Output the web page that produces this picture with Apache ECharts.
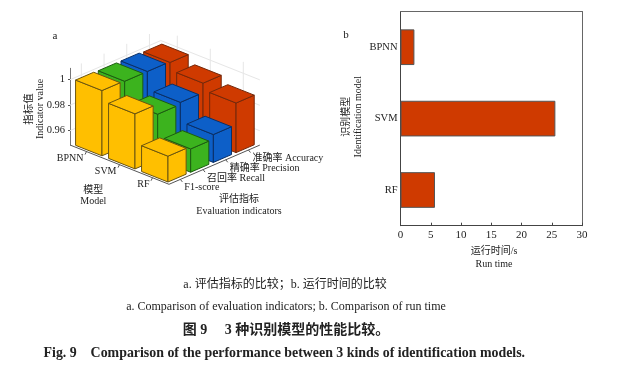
<!DOCTYPE html>
<html>
<head>
<meta charset="utf-8">
<style>
html, body { margin: 0; padding: 0; background: #fff; }
#chart { width: 622px; height: 369px; }
</style>
<script src="https://cdn.jsdelivr.net/npm/echarts@6/dist/echarts.min.js"></script>
</head>
<body>
<div id="chart"></div>
<script>
// 3D panel a
var models = ['BPNN', 'SVM', 'RF'];
var indicators = ['F1-score', '召回率 Recall', '精确率 Precision', '准确率 Accuracy'];
var f1Values = [1.000, 0.992, 0.969];
var recallValues = [0.9996, 0.984, 0.967];
var precisionValues = [0.9996, 0.9856, 0.9706];
var accuracyValues = [0.999, 0.993, 0.9877];
var zTicks = [0.96, 0.98, 1];
// panel b
var runModels = ['BPNN', 'SVM', 'RF'];
var runTimes = [2.3, 25.6, 5.7];

var indicatorValues = [f1Values, recallValues, precisionValues, accuracyValues];
var indicatorColors = ['#ffbf00', '#3cb31e', '#0d5fc8', '#cf3a00'];
var indicatorEdges = ['#6b5510', '#1d5c10', '#0a2f66', '#74280a'];

var serif = '"Liberation Serif", "Noto Sans CJK SC", serif';
var zMin = 0.9487;
var zMax = 1.009;

// oblique projection of the floor: m along models, i along indicators
var origin = [70, 145];
var stepM = [33, 13.1];
var stepI = [22.7, -9.8];
function floorPt(m, i) {
	return [origin[0] + m * stepM[0] + i * stepI[0], origin[1] + m * stepM[1] + i * stepI[1]];
}
function raise(pt, api, z) {
	return [pt[0], pt[1] + api.coord([0, z])[1] - api.coord([0, zMin])[1]];
}
function poly(points, fill, edge) {
	return {
		type: 'polygon',
		shape: { points: points },
		style: { fill: fill, stroke: edge, lineWidth: 1 }
	};
}
function line(a, b, color, width) {
	return {
		type: 'line',
		shape: { x1: a[0], y1: a[1], x2: b[0], y2: b[1] },
		style: { stroke: color, lineWidth: width || 1, fill: null }
	};
}
function label(text, x, y, align) {
	return {
		type: 'text',
		style: { text: text, x: x, y: y, align: align, verticalAlign: 'middle', font: '10px ' + serif, fill: '#222' }
	};
}

// walls, floor axes, category labels
function renderFrame(params, api) {
	var items = [];
	var wall = '#e6e6e6';
	var left = floorPt(0, 0), back = floorPt(0, 4), right = floorPt(3, 4), front = floorPt(3, 0);
	zTicks.forEach(function(z) {
		items.push(line(raise(left, api, z), raise(back, api, z), wall));
		items.push(line(raise(back, api, z), raise(right, api, z), wall));
	});
	indicators.forEach(function(n, i) {
		items.push(line(floorPt(0, i + 0.5), raise(floorPt(0, i + 0.5), api, zMax), wall));
	});
	models.forEach(function(n, m) {
		items.push(line(floorPt(m + 0.5, 4), raise(floorPt(m + 0.5, 4), api, zMax), wall));
	});
	items.push(line(left, front, '#555'));
	items.push(line(front, right, '#555'));
	models.forEach(function(n, m) {
		var p = floorPt(m + 0.5, 0);
		items.push(line(p, [p[0] - 1.5, p[1] + 3], '#555'));
		items.push(label(n, p[0] - 3, p[1] + 7, 'right'));
	});
	indicators.forEach(function(n, i) {
		var p = floorPt(3, i + 0.5);
		items.push(line(p, [p[0] + 2, p[1] + 2.5], '#555'));
		items.push(label(n, p[0] + 4, p[1] + 8.3, 'left'));
	});
	return { type: 'group', children: items };
}

function renderBar(params, api) {
	var m = api.value(0), i = api.value(1), z = api.value(2);
	var fill = indicatorColors[i], edge = indicatorEdges[i];
	var a = floorPt(m + 0.1, i + 0.1);  // left
	var b = floorPt(m + 0.9, i + 0.1);  // front
	var c = floorPt(m + 0.9, i + 0.9);  // right
	var d = floorPt(m + 0.1, i + 0.9);  // back
	var at = raise(a, api, z), bt = raise(b, api, z), ct = raise(c, api, z), dt = raise(d, api, z);
	return {
		type: 'group',
		children: [
			poly([a, b, bt, at], fill, edge),
			poly([b, c, ct, bt], fill, edge),
			poly([at, bt, ct, dt], fill, edge)
		]
	};
}

// back to front so nearer bars cover farther ones
var barData = [];
for (var i = indicators.length - 1; i >= 0; i--) {
	for (var m = 0; m < models.length; m++) {
		barData.push([m, i, indicatorValues[i][m]]);
	}
}

function txt(text, x, y, size, extra) {
	var s = { text: text, x: x, y: y, align: 'center', verticalAlign: 'middle', font: size + 'px ' + serif, fill: '#222' };
	for (var k in extra) s[k] = extra[k];
	return { type: 'text', style: s, silent: true };
}
function vtxt(text, x, y, size) {
	return {
		type: 'text', x: x, y: y, rotation: Math.PI / 2,
		style: { text: text, x: 0, y: 0, align: 'center', verticalAlign: 'middle', font: size + 'px ' + serif, fill: '#222' },
		silent: true
	};
}

var chart = echarts.init(document.getElementById('chart'));
chart.setOption({
	animation: false,
	backgroundColor: '#fff',
	grid: [
		{ left: 70, top: 68.3, width: 10, height: 76.7 },
		{ left: 400.5, top: 11.5, width: 181.5, height: 214.2 }
	],
	xAxis: [
		{ gridIndex: 0, type: 'value', min: 0, max: 1, show: false },
		{
			gridIndex: 1, type: 'value', min: 0, max: 30, interval: 5,
			splitLine: { show: false },
			axisLine: { show: true, lineStyle: { color: '#444' } },
			axisTick: { show: true, inside: true, length: 3, lineStyle: { color: '#444' } },
			axisLabel: { color: '#222', fontFamily: serif, fontSize: 11, margin: 4 }
		},
		{
			gridIndex: 1, type: 'value', position: 'top', min: 0, max: 30,
			axisLine: { show: true, onZero: false, lineStyle: { color: '#666' } },
			axisTick: { show: false }, axisLabel: { show: false }, splitLine: { show: false }
		}
	],
	yAxis: [
		{
			gridIndex: 0, type: 'value', min: zMin, max: zMax,
			splitLine: { show: false },
			axisLine: { show: true, onZero: false, lineStyle: { color: '#777' } },
			axisTick: { show: true, length: 2, customValues: zTicks, lineStyle: { color: '#555' } },
			axisLabel: { color: '#222', fontFamily: serif, fontSize: 10.5, margin: 5, customValues: zTicks, showMinLabel: true, showMaxLabel: true }
		},
		{
			gridIndex: 1, type: 'category', data: runModels, inverse: true,
			axisLine: { show: true, lineStyle: { color: '#444' } },
			axisTick: { show: false },
			axisLabel: { color: '#222', fontFamily: serif, fontSize: 10.5, margin: 3 }
		},
		{
			gridIndex: 1, type: 'value', position: 'right', min: 0, max: 1,
			axisLine: { show: true, onZero: false, lineStyle: { color: '#666' } },
			axisTick: { show: false }, axisLabel: { show: false }, splitLine: { show: false }
		}
	],
	series: [
		{
			type: 'custom', xAxisIndex: 0, yAxisIndex: 0, silent: true, z: 1,
			data: [[0, zMin]], encode: { x: 0, y: 1 }, renderItem: renderFrame
		},
		{
			type: 'custom', xAxisIndex: 0, yAxisIndex: 0, silent: true, z: 2,
			data: barData, dimensions: ['m', 'i', 'z'], encode: { y: 2 }, renderItem: renderBar
		},
		{
			type: 'bar', xAxisIndex: 1, yAxisIndex: 1, data: runTimes, barWidth: '50%', silent: true,
			itemStyle: { color: '#cf3a00', borderColor: '#555', borderWidth: 1 }
		}
	],
	graphic: { elements: [
		txt('a', 55, 36, 11),
		txt('b', 346, 35, 11),
		vtxt('指标值', 29, 109, 10.5),
		vtxt('Indicator value', 40, 109, 10),
		txt('模型', 93.3, 190, 10),
		txt('Model', 93.3, 201.7, 10),
		txt('评估指标', 239, 199.3, 10),
		txt('Evaluation indicators', 239, 211.7, 10),
		vtxt('识别模型', 346.7, 116.7, 10),
		vtxt('Identification model', 358.3, 116.7, 10),
		txt('运行时间/s', 494, 251.7, 10),
		txt('Run time', 494, 264.3, 10),
		txt('a. 评估指标的比较；b. 运行时间的比较', 285, 285, 12),
		txt('a. Comparison of evaluation indicators; b. Comparison of run time', 286, 307.3, 12),
		txt('图 9     3 种识别模型的性能比较。', 286, 330, 14, { font: 'bold 14px ' + serif }),
		txt('Fig. 9    Comparison of the performance between 3 kinds of identification models.', 284.3, 353.3, 14, { font: 'bold 13.9px ' + serif })
	] }
});
</script>
</body>
</html>
